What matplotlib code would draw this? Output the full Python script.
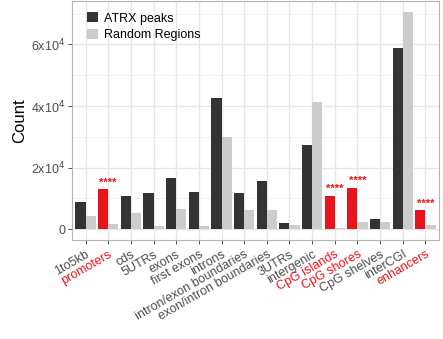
import matplotlib
matplotlib.use("Agg")
import matplotlib.pyplot as plt
from matplotlib.patches import Patch
from matplotlib.ticker import FixedLocator
import numpy as np

plt.rcParams['font.family'] = ['Liberation Sans', 'DejaVu Sans']

categories = ["1to5kb", "promoters", "cds", "5UTRs", "exons", "first exons",
              "introns", "intron/exon boundaries", "exon/intron boundaries",
              "3UTRs", "intergenic", "CpG islands", "CpG shores",
              "CpG shelves", "interCGI", "enhancers"]
atrx_peaks = [8700, 13000, 10800, 11600, 16500, 12200, 42500, 11900, 15700,
              1950, 27500, 10900, 13500, 3400, 58800, 6200]
random_regions = [4300, 1600, 5100, 900, 6700, 1000, 29800, 6200, 6300,
                  1400, 41400, 500, 2200, 2200, 70600, 1400]
enriched = ["promoters", "CpG islands", "CpG shores", "enhancers"]
stars = "****"
yticks = [0, 20000, 40000, 60000]
ytick_labels = ["0", r"2x10$^{4}$", r"4x10$^{4}$", r"6x10$^{4}$"]

dark = "#333333"
light = "#CCCCCC"
red = "#E8141C"
grey_text = "#4D4D4D"

fig = plt.figure(figsize=(4.43, 3.39), dpi=100)
ax = fig.add_axes([72 / 443, 1 - 240 / 339, (439 - 72) / 443, (240 - 1) / 339])

x = np.arange(1, len(categories) + 1)
w = 0.45
dark_colors = [red if c in enriched else dark for c in categories]
ax.bar(x - w / 2, atrx_peaks, width=w, color=dark_colors, zorder=3)
ax.bar(x + w / 2, random_regions, width=w, color=light, zorder=3)

for xi, c, v in zip(x, categories, atrx_peaks):
    if c in enriched:
        ax.text(xi, v + 500, stars, color=red, ha="center", va="bottom",
                fontsize=8, fontweight="bold", zorder=4)

ymax = 70600
ax.set_xlim(0.4, len(categories) + 0.6)
ax.set_ylim(-0.05 * ymax, 1.05 * ymax)

ax.set_yticks(yticks)
ax.set_yticklabels(ytick_labels)
ax.yaxis.set_minor_locator(FixedLocator([10000, 30000, 50000, 70000]))
ax.set_xticks(x)
ax.set_xticklabels(categories, rotation=30, ha="right", rotation_mode="anchor")

ax.tick_params(axis="both", which="major", length=3, width=0.6,
               color="#333333", labelsize=9)
ax.tick_params(axis="y", labelcolor=grey_text, pad=2)
ax.tick_params(axis="x", pad=3)
ax.tick_params(axis="y", which="minor", length=0)
for lbl, c in zip(ax.get_xticklabels(), categories):
    lbl.set_color(red if c in enriched else grey_text)

ax.grid(True, which="major", color="#E6E6E6", linewidth=1.0, zorder=0)
ax.grid(True, which="minor", axis="y", color="#F0F0F0", linewidth=0.6, zorder=0)
ax.set_axisbelow(True)
for s in ax.spines.values():
    s.set_color("#B3B3B3")
    s.set_linewidth(0.8)

ax.set_ylabel("Count", fontsize=12, color="black", labelpad=3)

handles = [Patch(facecolor=dark, label="ATRX peaks"),
           Patch(facecolor=light, label="Random Regions")]
ax.legend(handles=handles, loc="upper left", bbox_to_anchor=(0.02, 0.985),
          frameon=False, fontsize=9, handlelength=0.9, handleheight=0.9,
          handletextpad=0.5, labelspacing=0.35, borderaxespad=0.2)

fig.savefig("out.png", dpi=100)
